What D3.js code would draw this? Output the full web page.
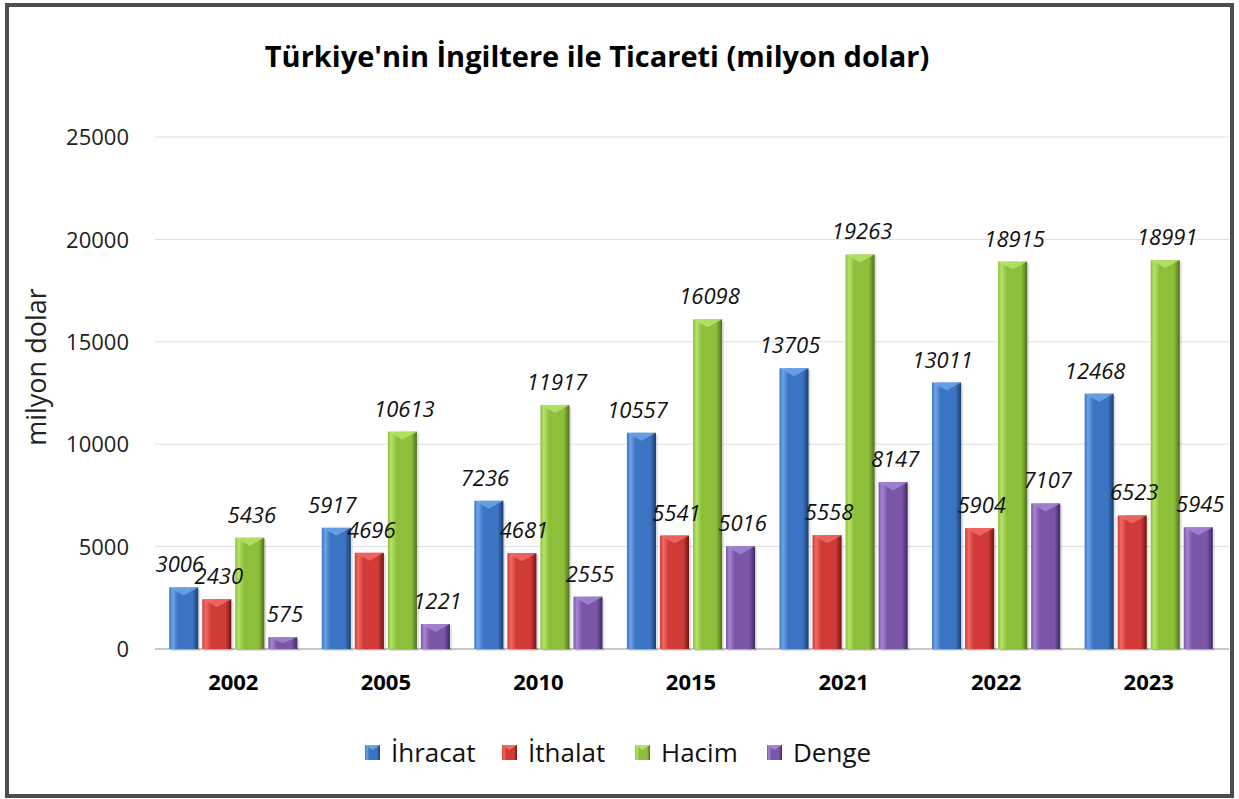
<!DOCTYPE html>
<html>
<head>
<meta charset="utf-8">
<script src="https://cdn.jsdelivr.net/npm/d3@7"></script>
<style>
  body { margin: 0; background: #fff; }
  text { font-family: "Open Sans", "Noto Sans", sans-serif; }
</style>
</head>
<body>
<div id="chart"></div>
<script>
// data
const years = ['2002', '2005', '2010', '2015', '2021', '2022', '2023'];
const ihracat = [3006, 5917, 7236, 10557, 13705, 13011, 12468];
const ithalat = [2430, 4696, 4681, 5541, 5558, 5904, 6523];
const hacim = [5436, 10613, 11917, 16098, 19263, 18915, 18991];
const denge = [575, 1221, 2555, 5016, 8147, 7107, 5945];
const seriesNames = ['İhracat', 'İthalat', 'Hacim', 'Denge'];
const yTicks = [0, 5000, 10000, 15000, 20000, 25000];

const series = [ihracat, ithalat, hacim, denge];
// base, light, dark
const colors = [
  ['#3a74c2', '#6ea3e6', '#1d3d6e'],
  ['#d03a37', '#f06a66', '#6e1514'],
  ['#8dbf3a', '#b6e26a', '#4f6f1c'],
  ['#7a55a8', '#a587d0', '#3f2860']
];

const W = 1239, H = 799;
const margin = { top: 137, right: 10, bottom: 150, left: 157 };
const width = W - margin.left - margin.right;
const height = 649 - margin.top;

const svg = d3.select('#chart')
  .append('svg')
  .attr('width', W)
  .attr('height', H);

// frame
svg.append('rect')
  .attr('x', 7).attr('y', 5)
  .attr('width', 1225).attr('height', 791)
  .attr('fill', '#fff')
  .attr('stroke', '#4d4d4d')
  .attr('stroke-width', 4);

const defs = svg.append('defs');
colors.forEach((c, i) => {
  const g = defs.append('linearGradient')
    .attr('id', 'grad' + i)
    .attr('x1', '0').attr('x2', '1').attr('y1', '0').attr('y2', '0');
  g.append('stop').attr('offset', '0').attr('stop-color', c[0]);
  g.append('stop').attr('offset', '0.12').attr('stop-color', c[1]);
  g.append('stop').attr('offset', '0.3').attr('stop-color', c[0]);
  g.append('stop').attr('offset', '0.8').attr('stop-color', c[0]);
  g.append('stop').attr('offset', '1').attr('stop-color', c[2]);
});

// title
svg.append('text')
  .attr('x', 597).attr('y', 67)
  .attr('text-anchor', 'middle')
  .style('font-size', '29px')
  .style('font-weight', 'bold')
  .text("Türkiye'nin İngiltere ile Ticareti (milyon dolar)");

const chart = svg.append('g')
  .attr('transform', 'translate(' + margin.left + ',' + margin.top + ')');

const x = d3.scaleBand()
  .domain(years)
  .range([0, width - 4])
  .paddingInner(0.16)
  .paddingOuter(0.08);

const xSub = d3.scaleBand()
  .domain(d3.range(series.length))
  .range([0, x.bandwidth()])
  .paddingInner(0.12);

const y = d3.scaleLinear()
  .domain([0, 25000])
  .range([height, 0]);

// grid
chart.append('g')
  .selectAll('line')
  .data(yTicks)
  .enter()
  .append('line')
  .attr('x1', -2).attr('x2', width)
  .attr('y1', d => y(d)).attr('y2', d => y(d))
  .attr('stroke', d => d === 0 ? '#c8c8c8' : '#dedede')
  .attr('stroke-width', d => d === 0 ? 2 : 1);

// y axis labels
const yAxis = chart.append('g')
  .attr('transform', 'translate(-25,0)')
  .call(d3.axisLeft(y).tickValues(yTicks).tickSize(0).tickFormat(d3.format('d')));
yAxis.select('.domain').remove();
yAxis.selectAll('text')
  .style('font-size', '22px')
  .attr('fill', '#222')
  .attr('dy', '0.35em');

svg.append('text')
  .attr('transform', 'translate(46,367) rotate(-90)')
  .attr('text-anchor', 'middle')
  .style('font-size', '27px')
  .attr('fill', '#222')
  .text('milyon dolar');

// x axis labels
const xAxis = chart.append('g')
  .attr('transform', 'translate(0,' + height + ')')
  .call(d3.axisBottom(x).tickSize(0).tickPadding(25));
xAxis.select('.domain').remove();
xAxis.selectAll('text')
  .style('font-size', '22px')
  .style('font-weight', 'bold')
  .attr('fill', '#000');

// bars
const groups = chart.selectAll('g.grp')
  .data(years)
  .enter()
  .append('g')
  .attr('class', 'grp')
  .attr('transform', d => 'translate(' + x(d) + ',0)');

series.forEach((vals, si) => {
  groups.each(function (yr, yi) {
    const g = d3.select(this);
    const v = vals[yi];
    const bx = xSub(si);
    const bw = xSub.bandwidth();
    const by = y(v);
    // shadow
    g.append('rect')
      .attr('x', bx + 2).attr('y', by + 2)
      .attr('width', bw).attr('height', height - by)
      .attr('fill', '#000').attr('opacity', 0.12);
    g.append('rect')
      .attr('x', bx).attr('y', by)
      .attr('width', bw).attr('height', height - by)
      .attr('fill', 'url(#grad' + si + ')');
    // top bevel highlight
    const bev = Math.min(8, (height - by) / 2);
    g.append('path')
      .attr('d', 'M' + bx + ',' + by + 'L' + (bx + bw) + ',' + by +
        'L' + (bx + bw / 2) + ',' + (by + bev) + 'Z')
      .attr('fill', colors[si][1]).attr('opacity', 0.85);
  });
});

// value labels, drawn over all bars
const labels = chart.append('g');
series.forEach((vals, si) => {
  labels.selectAll('text.s' + si)
    .data(vals)
    .enter()
    .append('text')
    .attr('class', 's' + si)
    .attr('x', (d, i) => x(years[i]) + xSub(si) + xSub.bandwidth() / 2 + (si === 0 ? -4 : 2))
    .attr('y', d => y(d) - 15)
    .attr('text-anchor', 'middle')
    .style('font-size', '22px')
    .style('font-style', 'italic')
    .attr('fill', '#111')
    .text(d => d);
});

// legend
const legendX = [365, 502, 635, 767];
const legend = svg.append('g');
seriesNames.forEach((name, i) => {
  const lg = legend.append('g').attr('transform', 'translate(' + legendX[i] + ',745)');
  lg.append('rect')
    .attr('width', 15).attr('height', 15)
    .attr('fill', 'url(#grad' + i + ')');
  lg.append('path')
    .attr('d', 'M0,0L15,0L7.5,5Z')
    .attr('fill', colors[i][1]);
  lg.append('text')
    .attr('x', 26).attr('y', 8)
    .attr('dy', '0.36em')
    .style('font-size', '26px')
    .attr('fill', '#111')
    .text(name);
});
</script>
</body>
</html>
